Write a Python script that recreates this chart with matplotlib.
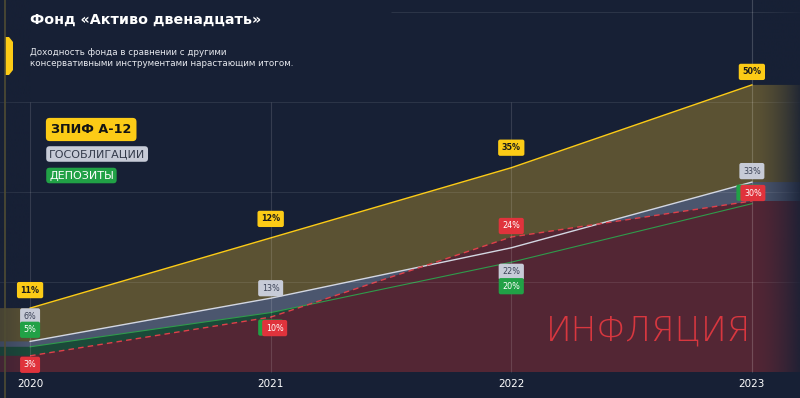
import numpy as np
import matplotlib
matplotlib.use('Agg')
import matplotlib.pyplot as plt
from matplotlib.patches import Polygon

plt.rcParams['font.family'] = ['DejaVu Sans']

years = ['2020', '2021', '2022', '2023']

# labels shown on the chart
fund_pct = [11, 12, 35, 50]
bonds_pct = [6, 13, 22, 33]
deposit_pct = [5, 10, 20, 30]
inflation_pct = [3, 10, 24, 30]

# heights the lines are drawn at (the picture is not to scale with the labels)
fund_level = [7.1, 14.9, 22.7, 31.9]
bonds_level = [3.4, 8.2, 13.8, 21.1]
deposit_level = [2.8, 6.6, 12.2, 18.7]
inflation_level = [1.8, 6.1, 15.0, 19.0]

bg = '#172035'
yellow = '#fccb16'
grey_badge = '#c7cbd7'
green = '#21a146'
red = '#e0333c'

fig = plt.figure(figsize=(8, 3.98), dpi=100, facecolor=bg)
ax = fig.add_axes([0, 0, 1, 1])
ax.set_facecolor(bg)
ax.axis('off')

x = np.arange(len(years))
# flat extension past the first and last year
xe = np.concatenate([[-0.125], x, [3.2]])


def ext(v):
    return np.concatenate([[v[0]], v, [v[-1]]])


series = [
    (fund_level, '#5b5233', yellow, '-', 1.0),
    (bonds_level, '#4b566e', '#d3d7e2', '-', 1.0),
    (deposit_level, '#1b4a39', '#2f9b4b', '-', 0.8),
    (inflation_level, '#532634', '#e0404a', (0, (4, 3)), 1.0),
]
for i, (lvl, fc, lc, ls, lw) in enumerate(series):
    ax.fill_between(xe, 0, ext(lvl), color=fc, lw=0, zorder=1 + i)
# lines above all the fills
for i, (lvl, fc, lc, ls, lw) in enumerate(series):
    ax.plot(x, lvl, color=lc, ls=ls, lw=lw, zorder=5 + i * 0.1)

# grid on top of the fills
for yv in [10, 20, 30]:
    ax.axhline(yv, color='white', alpha=0.09, lw=0.8, zorder=6)
ax.hlines(40, 1.5, 3.2, color='white', alpha=0.09, lw=0.8, zorder=6)
ax.vlines([0, 1, 2], 0, 30, color='white', alpha=0.13, lw=0.8, zorder=6)
ax.vlines([3], 0, 42, color='white', alpha=0.18, lw=0.8, zorder=6)

# fades on both sides
rgb = np.array(matplotlib.colors.to_rgb(bg))
n = 200
grad = np.zeros((1, n, 4))
grad[..., :3] = rgb
grad[0, :, 3] = np.linspace(0, 0.92, n) ** 1.6
ax.imshow(grad, extent=[3.0, 3.2, 0, 42], aspect='auto', zorder=7,
          interpolation='bilinear')
grad_l = np.zeros((1, n, 4))
grad_l[..., :3] = rgb
grad_l[0, :, 3] = np.linspace(0.3, 0, n)
ax.imshow(grad_l, extent=[-0.125, 0, 0, 42], aspect='auto', zorder=7,
          interpolation='bilinear')
ax.set_xlim(-0.125, 3.2)
ax.set_ylim(-26 / 9, 372 / 9)

ax.text(2.57, 4.6, 'ИНФЛЯЦИЯ', color='#d8373f', fontsize=24.5, fontweight=200,
        family=['DejaVu Sans'], ha='center', va='center', zorder=8)


def badge(xv, yv, txt, fc, tc, dx, dy, weight='normal'):
    ax.annotate(txt, (xv, yv), xytext=(dx, dy), textcoords='offset pixels',
                ha='center', va='center', fontsize=5.8, color=tc, fontweight=weight,
                zorder=10,
                bbox=dict(boxstyle='round,pad=0.45,rounding_size=0.25', fc=fc, ec='none'))


fund_off = [(0, 18), (0, 19), (0, 20), (0, 13)]
bonds_off = [(0, 25), (0, 10), (0, -24), (0, 11)]
dep_off = [(0, 17), (0, -15), (0, -24), (-3, 11)]
infl_off = [(0, -9), (4, -11), (0, 11), (1, 8)]

for i in range(len(years)):
    badge(x[i], fund_level[i], f'{fund_pct[i]}%', yellow, '#1a1a1a', *fund_off[i], weight='bold')
    badge(x[i], bonds_level[i], f'{bonds_pct[i]}%', grey_badge, '#3b4256', *bonds_off[i])
    badge(x[i], deposit_level[i], f'{deposit_pct[i]}%', green, 'white', *dep_off[i])
    badge(x[i], inflation_level[i], f'{inflation_pct[i]}%', red, 'white', *infl_off[i])

for i, yr in enumerate(years):
    ax.annotate(yr, (x[i], 0), xytext=(0, -12), textcoords='offset pixels',
                ha='center', va='center', color='white', fontsize=7.5)

# header
W, H = 800, 398
fig.text(30 / W, 1 - 20 / H, 'Фонд «Активо двенадцать»', color='white',
         fontsize=10.3, fontweight='bold', va='center', ha='left')
fig.text(30 / W, 1 - 58 / H,
         'Доходность фонда в сравнении с другими\nконсервативными инструментами нарастающим итогом.',
         color='#e6e8ee', fontsize=6.3, va='center', ha='left', linespacing=1.3)

# legend badges
fig.text(51 / W, 1 - 129.5 / H, 'ЗПИФ А-12', color='#141414', fontsize=9.2,
         fontweight='bold', va='center', ha='left',
         bbox=dict(boxstyle='round,pad=0.4,rounding_size=0.3', fc=yellow, ec='none'))
fig.text(49 / W, 1 - 154 / H, 'ГОСОБЛИГАЦИИ', color='#333a4a', fontsize=8.0,
         va='center', ha='left',
         bbox=dict(boxstyle='round,pad=0.25,rounding_size=0.3', fc=grey_badge, ec='none'))
fig.text(49 / W, 1 - 175.5 / H, 'ДЕПОЗИТЫ', color='white', fontsize=8.0,
         va='center', ha='left',
         bbox=dict(boxstyle='round,pad=0.25,rounding_size=0.3', fc=green, ec='none'))

# left edge line and tab
fig.add_artist(plt.Line2D([5 / W, 5 / W], [0, 1], color='#4f4c33', lw=1.2))
tab = [(5, 37), (9, 37), (13, 42), (13, 70), (9, 75), (5, 75)]
fig.add_artist(Polygon([(px / W, 1 - py / H) for px, py in tab], closed=True,
                       fc=yellow, ec='none', transform=fig.transFigure))

fig.savefig('out.png', dpi=100, facecolor=bg)
